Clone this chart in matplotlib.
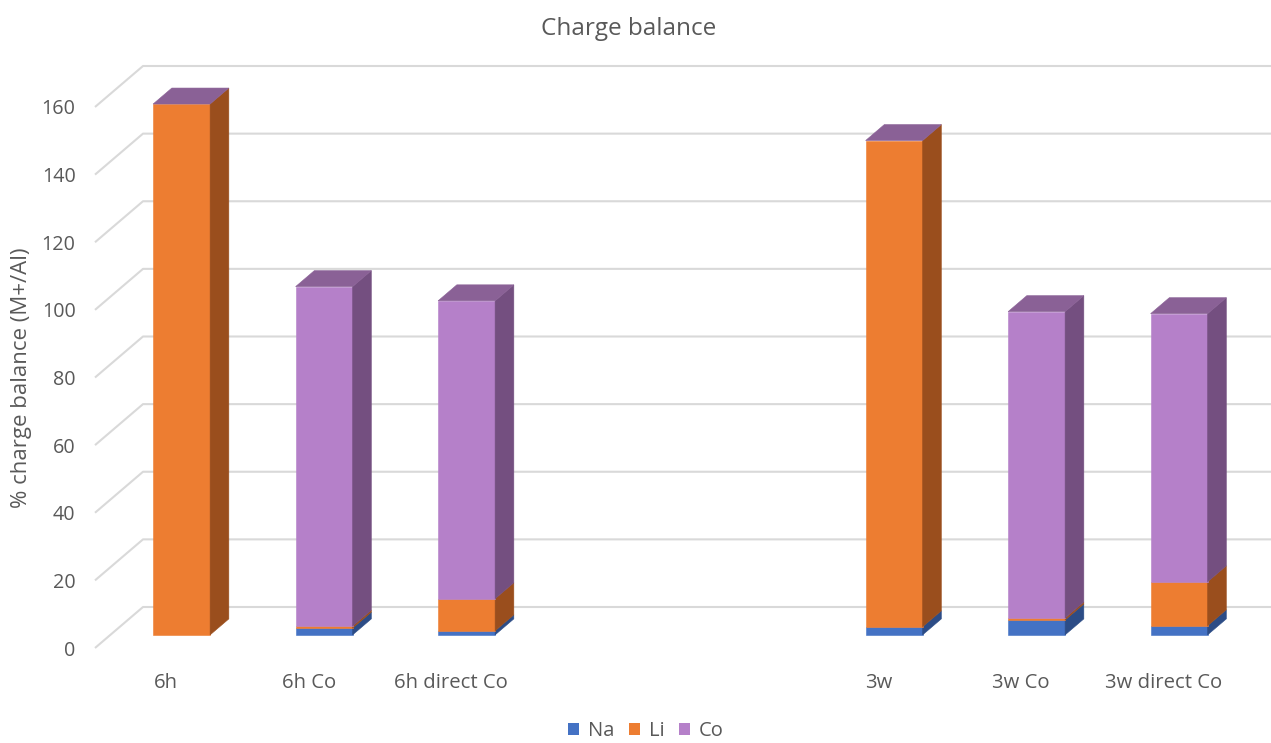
import matplotlib
matplotlib.use("Agg")
import matplotlib.pyplot as plt
from matplotlib.patches import Polygon, Patch

# Data
categories = ["6h", "6h Co", "6h direct Co", "", "", "3w", "3w Co", "3w direct Co"]
na = [0.0, 2.0, 1.2, None, None, 2.4, 4.4, 2.7]
li = [157.0, 0.6, 9.5, None, None, 143.8, 0.6, 13.0]
co = [0.0, 100.4, 88.1, None, None, 0.0, 90.6, 79.3]
series_names = ["Na", "Li", "Co"]
y_ticks = [0, 20, 40, 60, 80, 100, 120, 140, 160]

# Styling
front_cols = {"Na": "#4472C4", "Li": "#ED7D31", "Co": "#B580C9"}
side_cols = {"Na": "#2C4C86", "Li": "#9A4E1D", "Co": "#744F80"}
top_col = "#8A6196"
grid_col = "#D9D9D9"
text_col = "#595959"
FONT = "Open Sans"

W, H = 1271, 743
fig = plt.figure(figsize=(W / 100, H / 100), dpi=100)

# Front plane of the plot box (pixels): x 95..1235, value 0 at y=648, 160 at y=107
left_px, right_px = 95, 95 + 8 * 142.5
bot_px, top_px = 648, 107
ax = fig.add_axes([left_px / W, 1 - bot_px / H,
                   (right_px - left_px) / W, (bot_px - top_px) / H])
ax.set_xlim(-0.5, 7.5)
ax.set_ylim(0, 160)

# Oblique depth offset for the full floor depth, in data units
DX = 48 / 142.5
DY = 41 / ((bot_px - top_px) / 160)


def P(x, v, d):
    return (x + d * DX, v + d * DY)


# Gridlines: diagonal on the side wall, then horizontal along the back wall
for t in y_ticks:
    xs = [-0.5, -0.5 + DX, 9.0]
    ys = [t, t + DY, t + DY]
    ax.plot(xs, ys, color=grid_col, lw=1.5, clip_on=False, zorder=1,
            solid_capstyle="butt")

# Bars
hw = 0.2
d0, d1 = 0.32, 0.71


def poly(pts, fc, z):
    ax.add_patch(Polygon(pts, closed=True, facecolor=fc, edgecolor=fc,
                         lw=0.4, clip_on=False, zorder=z, joinstyle="miter"))


for i, cat in enumerate(categories):
    if na[i] is None:
        continue
    base = 0.0
    for name, vals in zip(series_names, [na, li, co]):
        v = vals[i]
        if v > 0:
            v0, v1 = base, base + v
            poly([P(i - hw, v0, d0), P(i + hw, v0, d0),
                  P(i + hw, v1, d0), P(i - hw, v1, d0)], front_cols[name], 3)
            poly([P(i + hw, v0, d0), P(i + hw, v0, d1),
                  P(i + hw, v1, d1), P(i + hw, v1, d0)], side_cols[name], 3)
        base += v
    poly([P(i - hw, base, d0), P(i + hw, base, d0),
          P(i + hw, base, d1), P(i - hw, base, d1)], top_col, 4)

# Axes decoration
for s in ax.spines.values():
    s.set_visible(False)
ax.set_facecolor("none")
ax.set_yticks(y_ticks)
ax.set_yticklabels([str(t) for t in y_ticks], fontfamily=FONT, fontsize=14.2,
                   color=text_col)
ax.set_xticks(range(len(categories)))
ax.set_xticklabels(categories, fontfamily=FONT, fontsize=14.6, color=text_col)
ax.tick_params(axis="y", length=0, pad=14)
ax.tick_params(axis="x", length=0, pad=18)

fig.text(22 / W, 1 - 378 / H, "% charge balance (M+/Al)", rotation=90,
         ha="center", va="center", fontfamily=FONT, fontsize=16, color=text_col)
fig.text(629 / W, 1 - 29 / H, "Charge balance", ha="center", va="center",
         fontfamily=FONT, fontsize=17.5, color=text_col)

handles = [Patch(facecolor=front_cols[n], edgecolor="none") for n in series_names]
leg = fig.legend(handles, series_names, loc="center", ncol=3,
                 bbox_to_anchor=(646 / W, 1 - 731 / H), frameon=False,
                 handlelength=0.55, handleheight=0.55, handletextpad=0.45,
                 columnspacing=0.7, prop={"family": FONT, "size": 14.5})
for t in leg.get_texts():
    t.set_color(text_col)

fig.savefig("out.png", dpi=100, facecolor="white")
